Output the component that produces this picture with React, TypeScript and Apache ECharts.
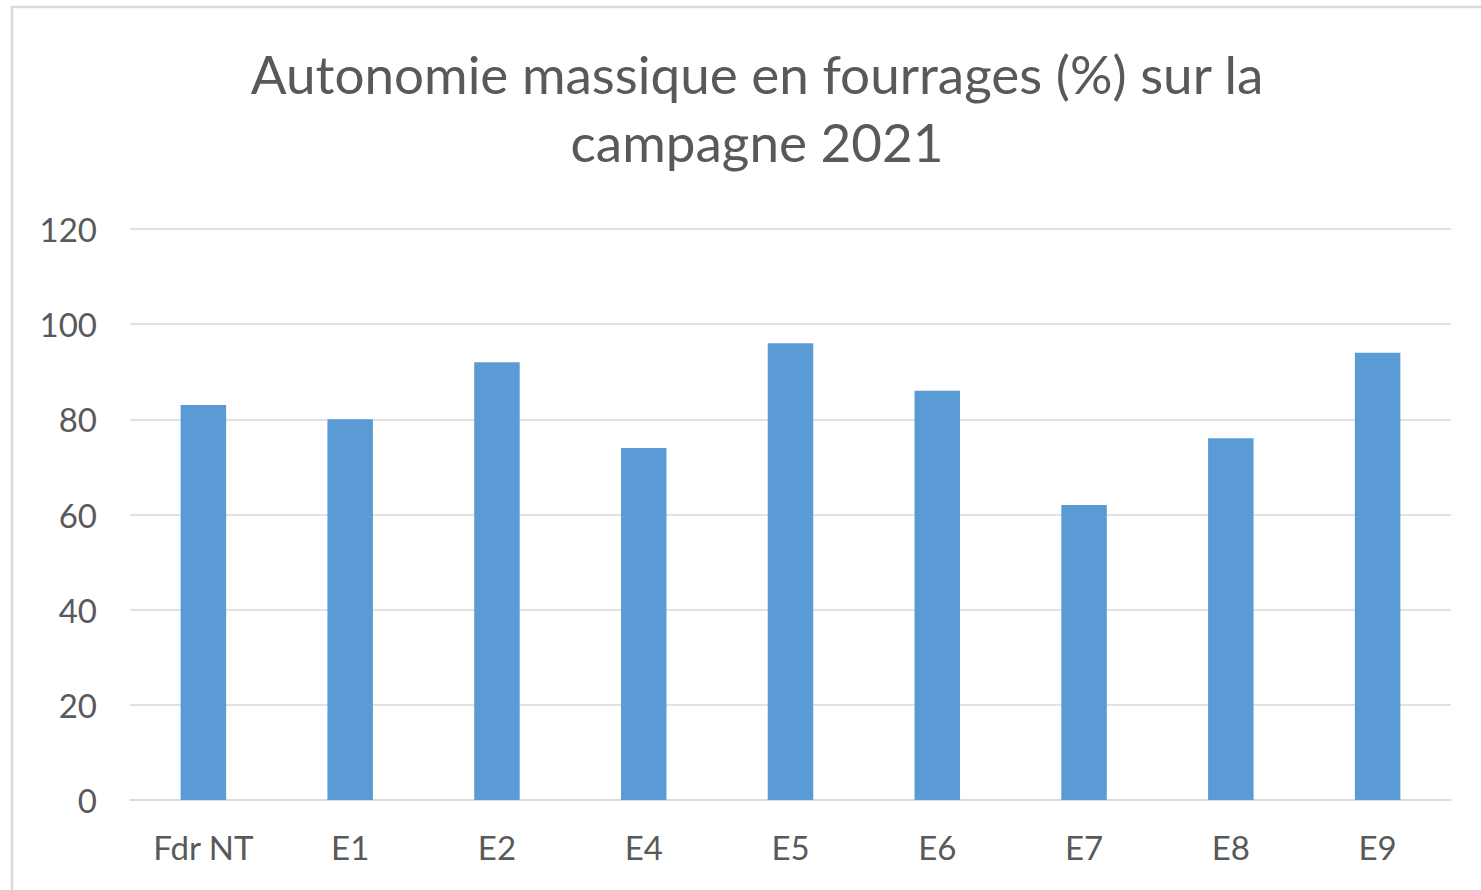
import React, { useEffect, useRef } from "react";
import * as echarts from "echarts";

const categories = ["Fdr NT", "E1", "E2", "E4", "E5", "E6", "E7", "E8", "E9"];
const values = [83, 80, 92, 74, 96, 86, 62, 76, 94];
const yTicks = { min: 0, max: 120, interval: 20 };
const titleText = "Autonomie massique en fourrages (%) sur la\ncampagne 2021";

export default function App() {
  const ref = useRef<HTMLDivElement>(null);
  useEffect(() => {
    document.body.style.margin = "0";
    const chart = echarts.init(ref.current!, null, { renderer: "svg" });
    const font = "Lato, 'Open Sans', sans-serif";
    chart.setOption({
      animation: false,
      backgroundColor: "#ffffff",
      title: {
        text: titleText,
        left: 752,
        top: 34,
        textAlign: "center",
        textStyle: {
          fontFamily: font,
          fontSize: 53,
          lineHeight: 68,
          fontWeight: "normal",
          color: "#595959",
        },
      },
      graphic: [
        {
          type: "rect",
          shape: { x: 12, y: 7, width: 1500, height: 900 },
          style: { fill: "none", stroke: "#d9d9d9", lineWidth: 2.5 },
          silent: true,
        },
      ],
      grid: { left: 130, right: 30, top: 229, bottom: 90, containLabel: false },
      xAxis: {
        type: "category",
        data: categories,
        axisLine: { show: true, lineStyle: { color: "#d9d9d9", width: 1.5 } },
        axisTick: { show: false },
        axisLabel: {
          fontFamily: font,
          fontSize: 33,
          color: "#595959",
          margin: 30,
        },
      },
      yAxis: {
        type: "value",
        min: yTicks.min,
        max: yTicks.max,
        interval: yTicks.interval,
        axisLine: { show: false },
        axisTick: { show: false },
        splitLine: { lineStyle: { color: "#d9d9d9", width: 1.5 } },
        axisLabel: {
          fontFamily: font,
          fontSize: 33,
          color: "#595959",
          margin: 33,
        },
      },
      series: [
        {
          type: "bar",
          data: values,
          barWidth: "31%",
          itemStyle: { color: "#5b9bd5" },
        },
      ],
    });
    return () => chart.dispose();
  }, []);
  return <div ref={ref} style={{ width: 1481, height: 890 }} />;
}
